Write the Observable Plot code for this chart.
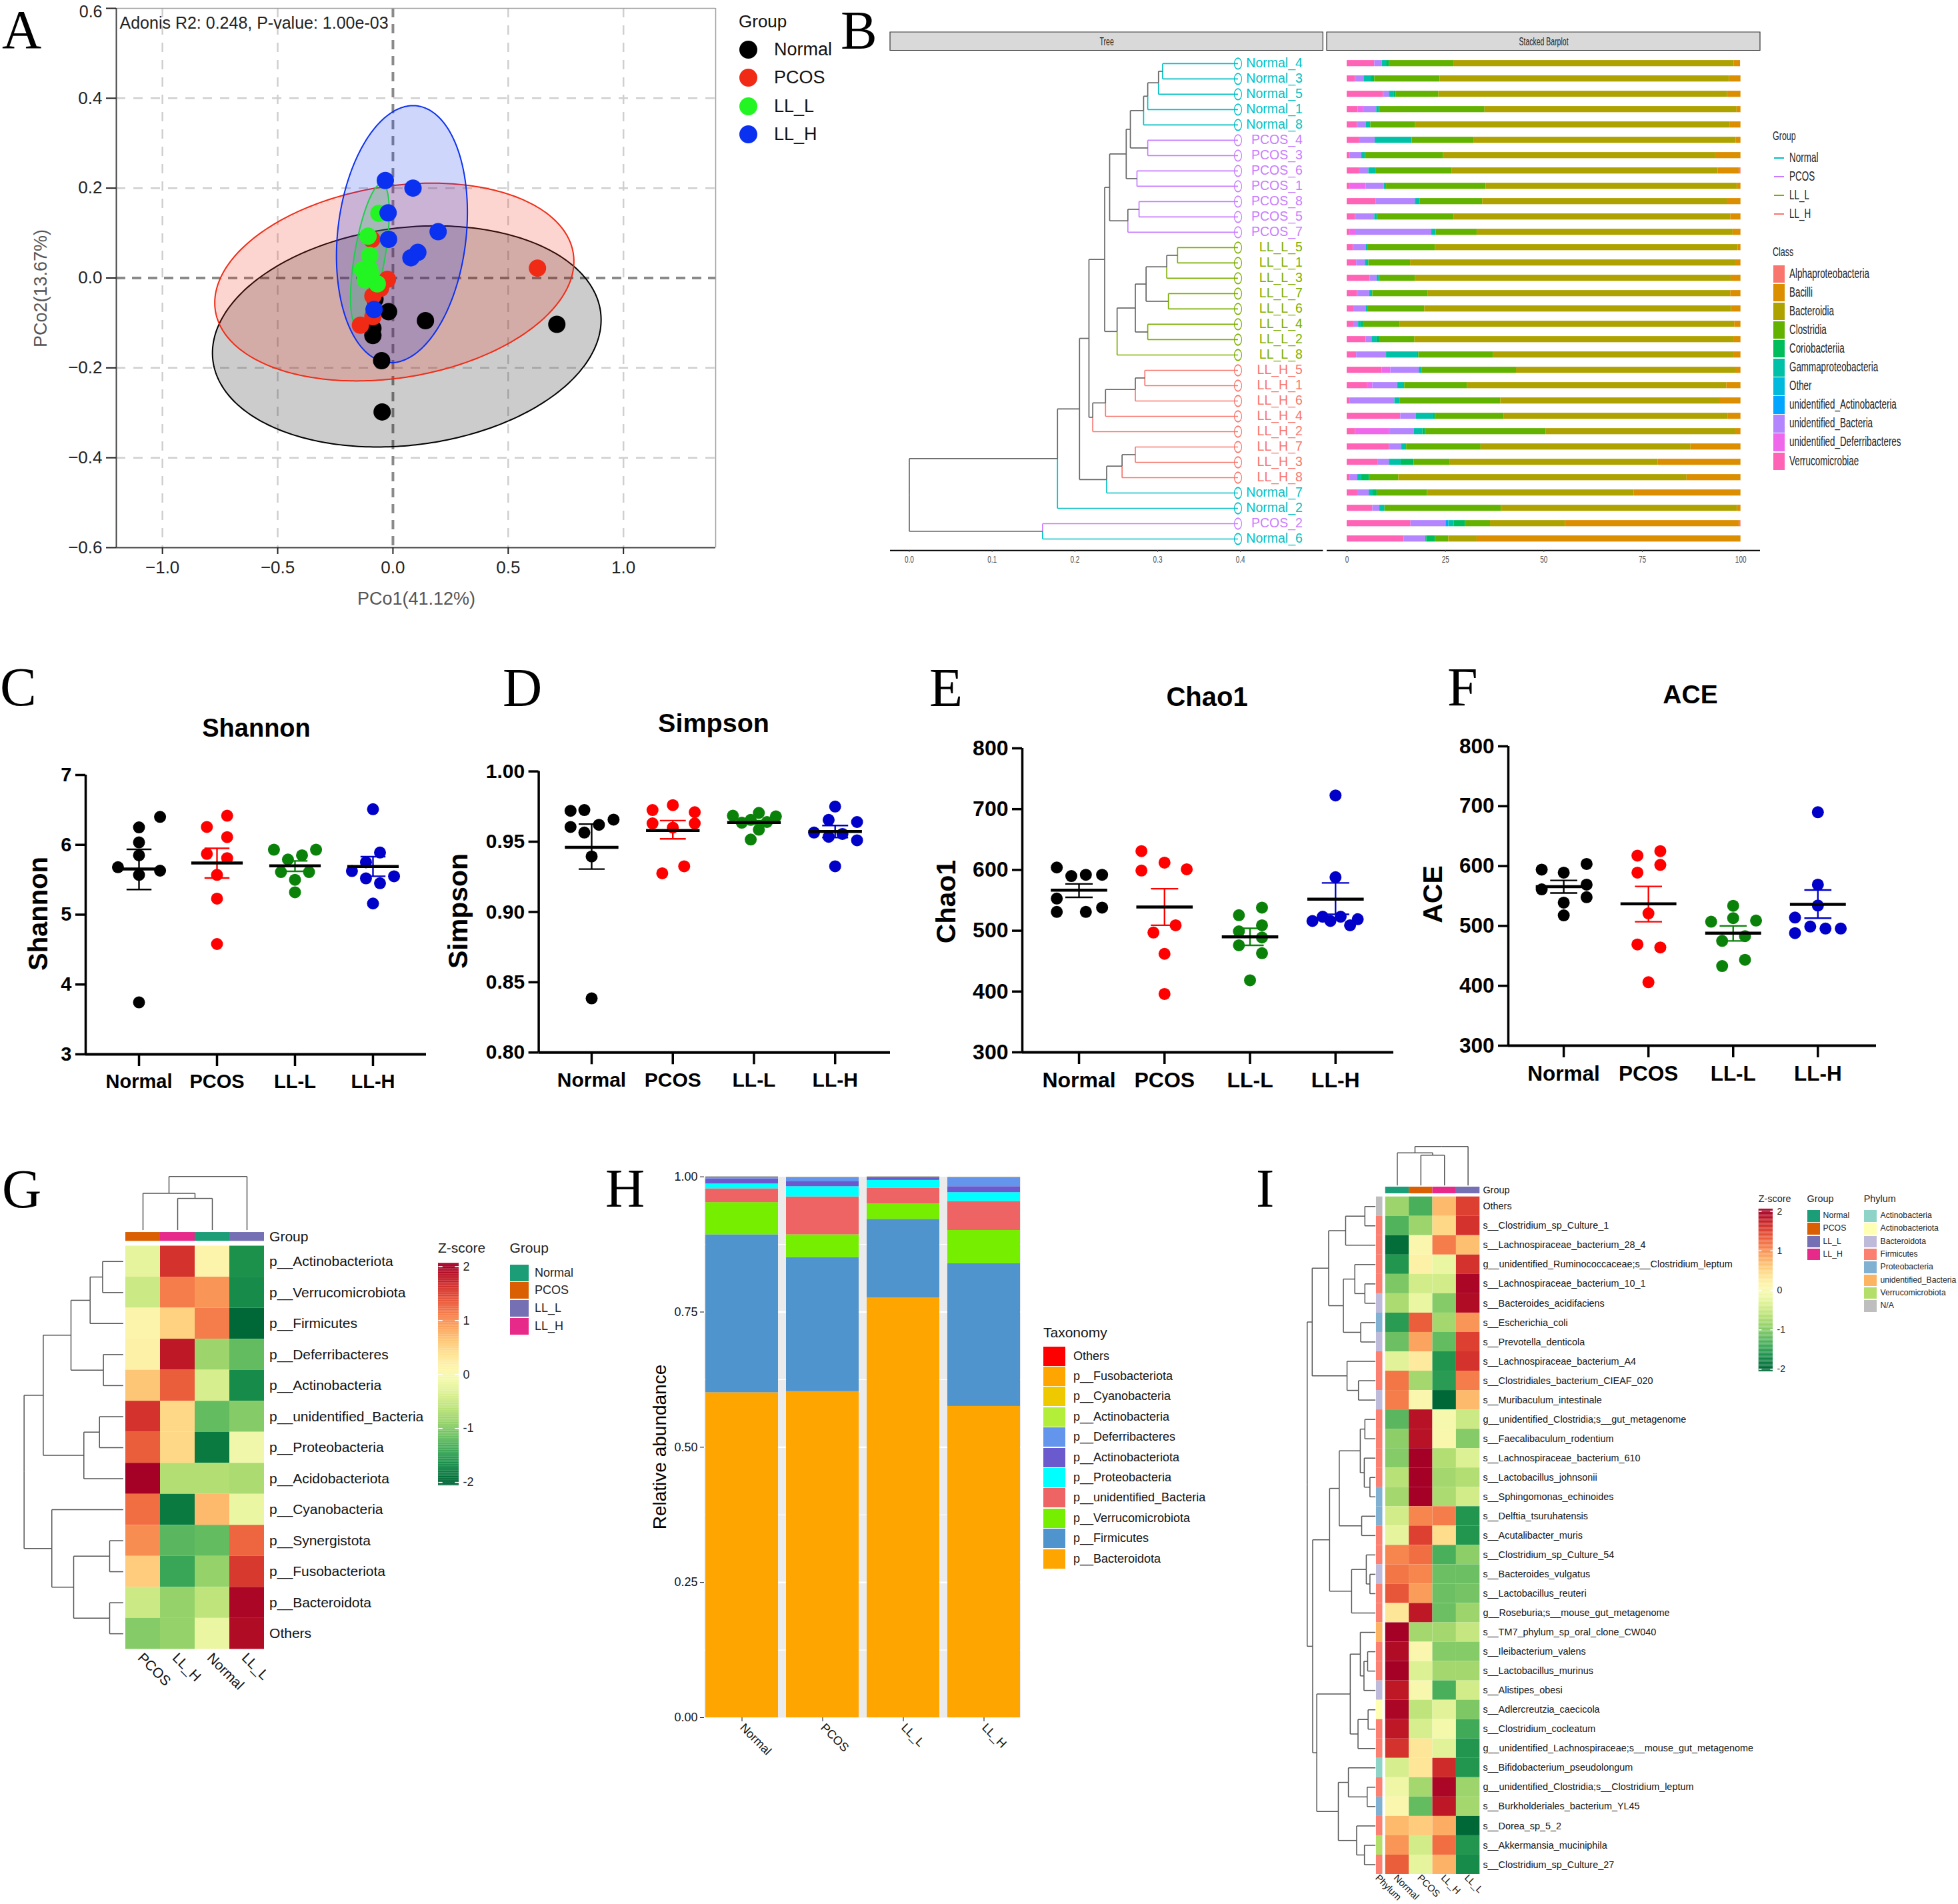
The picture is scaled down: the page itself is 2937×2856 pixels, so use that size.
<!DOCTYPE html>
<html><head><meta charset="utf-8">
<script src="https://cdn.jsdelivr.net/npm/d3@7"></script>
<script src="https://cdn.jsdelivr.net/npm/@observablehq/plot@0.6"></script>
<style>
html,body{margin:0;padding:0;background:#fff}
#page{position:relative;width:2937px;height:2856px;overflow:hidden;font-family:"Liberation Sans",Arial,sans-serif}
.letter{position:absolute;font-family:"Liberation Serif",serif;font-size:82px;line-height:1;color:#000}
.lg{position:absolute;white-space:nowrap}
.st line,.st path,.st rect{vector-effect:non-scaling-stroke}
</style></head><body><div id="page"></div>
<script>
/* ---------- shared ---------- */
const groupsAlpha=["Normal","PCOS","LL-L","LL-H"];
const FONT='"Liberation Sans",Arial,sans-serif';

/* ---------- A: PCoA ---------- */
const pcoaGroups=["Normal","PCOS","LL_L","LL_H"];
const pcoaColors=["#000000","#f02a14","#22f522","#0a30f0"];
const pcoaX=[.711,.141,-.019,-.049,-.047,-.087,-.087,-.078, .627,-.092,-.024,-.054,-.087,-.087,-.141,-.073, -.061,-.108,-.101,-.132,-.101,-.12,-.068,-.097, -.033,.087,-.021,.196,-.019,.108,.078,-.082];
const pcoaY=[-.103,-.095,-.075,-.184,-.298,-.128,-.112,-.047, .022,.086,-.003,-.023,-.04,-.086,-.105,-.012, .144,.093,.05,.018,.02,-.004,-.013,.01, .217,.2,.145,.103,.086,.057,.045,-.07];
/* ellipse: centre, half extent in x and y, tilt (correlation) */
const ellCx=[.06,.006,-.10,.039];
const ellCy=[-.13,-.009,.051,.0975];
const ellHx=[.843,.779,.084,.284];
const ellHy=[.246,.22,.159,.286];
const ellR=[.15,.21,.6,.17];

/* ---------- B: tree + stacked bars ---------- */
const sampleNames=["Normal_4","Normal_3","Normal_5","Normal_1","Normal_8","PCOS_4","PCOS_3","PCOS_6","PCOS_1","PCOS_8","PCOS_5","PCOS_7","LL_L_5","LL_L_1","LL_L_3","LL_L_7","LL_L_6","LL_L_4","LL_L_2","LL_L_8","LL_H_5","LL_H_1","LL_H_6","LL_H_4","LL_H_2","LL_H_7","LL_H_3","LL_H_8","Normal_7","Normal_2","PCOS_2","Normal_6"];
const bGroupColors={Normal:"#00BFC4",PCOS:"#C77CFF",LL_L:"#7CAE00",LL_H:"#F8766D"};
const bTree=[0,
 [.179,
  [.2056,
   [.217,
    [.236,
     [.242,
      [.262,[.267,[.283,[.288,[.301,[.306,0,1],2],3],4],[.288,5,6]],[.275,7,8]],
      [.264,[.2775,9,10],11]],
     [.251,[.273,[.286,[.311,[.324,12,13],14],[.313,15,16]],[.288,17,18]],19]],
    [.2216,[.237,[.273,[.2845,20,21],22],23],24]],
   [.2384,[.257,[.273,25,26],27],28]],
  29],
 [.161,30,31]];
const classNames=["Alphaproteobacteria","Bacilli","Bacteroidia","Clostridia","Coriobacteriia","Gammaproteobacteria","Other","unidentified_Actinobacteria","unidentified_Bacteria","unidentified_Deferribacteres","Verrucomicrobiae"];
const classColors=["#F8766D","#DB8E00","#AEA200","#64B200","#00BD5C","#00C1A7","#00BADE","#00A6FF","#B385FF","#EF67EB","#FF63B6"];
const verrucomicrobiae=[7,2.1,9.2,2.8,2.6,3.2,.8,3.2,.7,7.4,2.1,.7,1.6,2.4,5.8,2.6,1.7,1.7,4.8,2.4,8.9,5.2,.7,13.6,2.1,10.7,7.8,.7,2.7,6.5,16.2,14.5];
const uDeferribacteres=[0,0,0,1.4,0,0,0,0,4.1,0,0,1.5,0,0,0,0,0,0,0,0,2.2,1.3,0,0,8.7,0,0,0,0,0,0,0];
const uBacteria=[1.9,2.3,1.5,3.3,2.3,3.9,2.9,2.3,4.6,9.9,4.9,19.3,3.2,2.2,1.8,3.1,3.2,1.2,1.5,7.6,7.2,6.3,11.4,3.9,6.2,3.1,2.9,2,2.9,1.8,8.9,5.4];
const uActinobacteria=[0,0,0,0,0,0,0,0,0,0,0,0,0,0,0,0,0,0,0,0,0,0,0,0,0,0,0,0,0,0,.7,0];
const gammaproteobacteria=[1.1,1.7,1.3,.7,1.1,9.4,.9,1.8,.6,1.2,.7,1.1,.6,.9,.6,.8,.5,.8,1.3,7.8,.8,1.8,1.3,4.5,2.2,1.3,3,1,1,1.3,1.4,.3];
const coriobacteriia=[.7,.9,.4,0,0,0,0,0,0,0,0,0,0,0,0,0,0,.5,.7,.4,0,0,0,.4,.7,0,3.3,2,1,0,2.8,2.2];
const clostridia=[16.4,16.6,10.9,26.8,11.3,15.8,19.9,19.4,25.3,15.9,19.5,10.4,17,10.6,9.1,14.1,14.3,9.2,8.9,19,23.9,15.9,25.6,17.5,30.6,18.9,9.2,7.4,12.8,29.6,6.4,3.4];
const bacteroidia=[71.2,73.5,73.3,64,80,66.5,69.1,67.5,63.8,62.1,70.2,65,76.9,82.6,80.2,76.8,77.9,85,81,61,55.7,65.9,55.8,56.8,48.2,53.3,52.8,73.2,52.5,59.9,19,7.2];
const bacilli=[1.6,2.9,3.4,1,2.7,1.2,6.4,5.4,.9,3.5,2.6,2,.7,1.3,2.5,2.6,2.4,1.6,1.8,1.8,1.3,3.6,5.2,3.3,1.3,12.7,21,13.7,27.1,.9,44.2,67];
const alphaproteobacteria=[0,0,0,0,0,0,0,.4,0,0,0,0,0,0,0,0,0,0,0,0,0,0,0,0,0,0,0,0,0,0,.4,0];

/* ---------- C-F: alpha diversity; 8 samples per group ---------- */
const alphaColors=["#000000","#ff0000","#0a820a","#0000c8"];
const shannonY=[3.744,6.40,6.25,6.035,5.85,5.68,5.63,5.57, 6.417,6.256,6.11,5.87,5.81,5.57,5.23,4.58, 5.93,5.93,5.79,5.85,5.61,5.61,5.50,5.32, 6.51,5.89,5.75,5.625,5.52,5.55,5.45,5.16];
const shannonJ=[0,.27,0,0,0,-.27,.27,0, .13,-.13,.13,-.13,.13,0,0,0, -.27,.27,-.09,.09,-.18,.18,0,0, 0,.09,-.09,-.27,-.09,.27,.09,0];
const shannonMean=[5.653,5.74,5.70,5.69];
const shannonLow=[5.36,5.525,5.62,5.55];
const shannonHigh=[5.935,5.95,5.77,5.83];
const simpsonY=[.972,.9725,.9657,.9605,.962,.9565,.9395,.8385, .976,.9725,.971,.963,.963,.96,.9275,.9325, .9685,.968,.9705,.9635,.9655,.964,.9585,.9515, .975,.9655,.964,.9565,.9535,.9555,.951,.9325];
const simpsonJ=[-.26,-.09,.27,-.26,.09,-.09,0,0, 0,-.25,.27,-.25,.27,0,-.13,.14, -.26,.27,.06,-.15,-.04,.16,.06,-.04, 0,-.08,.27,-.26,-.08,.09,.27,0];
const simpsonMean=[.946,.958,.9637,.9573];
const simpsonLow=[.9305,.952,.9625,.953];
const simpsonHigh=[.9625,.965,.965,.9615];
const chao1Y=[604,590,592,592,553,531,531,538, 631,612,599,601,509,497,462,396, 538,525.5,509,499,489,476,463,418.5, 722.5,588,523,516,516,519,509,523];
const chao1J=[-.26,-.09,.08,.27,-.26,-.26,.08,.27, -.27,0,-.27,.26,.13,-.13,0,0, .14,-.13,.14,-.13,.14,-.13,.14,0, 0,0,-.15,-.27,-.06,.26,.17,.06];
const chao1Mean=[566.6,539,490,552];
const chao1Low=[555,509,476,527];
const chao1High=[577,569,504,578.6];
const aceY=[594,603.5,589,569,561,548,539,517.6, 625,617.5,602,589,521,469,464,406, 533.6,509,507,513,483,475,443.5,433, 690,569,534,514,488,499,495.6,495.6];
const aceJ=[-.26,.27,0,.27,-.26,.27,0,0, .14,-.13,.14,-.13,0,-.13,.14,0, 0,.27,-.26,0,.14,-.13,.14,-.13, 0,0,0,-.27,-.27,-.09,.09,.27];
const aceMean=[565.5,537,488,536];
const aceLow=[555,507,475,513];
const aceHigh=[576,566,500,560];

/* ---------- G: heatmap ---------- */
const gTaxa=["p__Actinobacteriota","p__Verrucomicrobiota","p__Firmicutes","p__Deferribacteres","p__Actinobacteria","p__unidentified_Bacteria","p__Proteobacteria","p__Acidobacteriota","p__Cyanobacteria","p__Synergistota","p__Fusobacteriota","p__Bacteroidota","Others"];
const gCols=["PCOS","LL_H","Normal","LL_L"];
const gPCOS=[-.25,-.5,.1,.15,.6,1.6,1.3,2,1.2,1,.55,-.5,-1];
const gLLH=[1.6,1.1,.5,1.8,1.3,.45,.45,-.7,-1.85,-1.25,-1.45,-.9,-.9];
const gNormal=[.1,.95,1.1,-.85,-.4,-1.2,-1.85,-.7,.7,-1.2,-.9,-.6,-.2];
const gLLL=[-1.65,-1.7,-2,-1.2,-1.7,-1,-.12,-.75,-.2,1.25,1.55,1.95,1.9];
const gRowTree=[-2.93,[-2.377,[-1.577,[-1.025,[-.665,0,1],2],[-.642,3,4]],[-1.206,[-.755,5,6],7]],[-2.13,8,[-1.5,[-.462,9,10],[-.462,11,12]]]];
const gColTree=[-2.24,[-1.7,0,[-1.535,1,2]],3];
const stripColors={Normal:"#1b9e77",PCOS:"#d95f02",LL_L:"#7570b3",LL_H:"#e7298a"};

/* ---------- H: stacked relative abundance ---------- */
const hSamples=["Normal","PCOS","LL_L","LL_H"];
const hTaxa=["p__Bacteroidota","p__Firmicutes","p__Verrucomicrobiota","p__unidentified_Bacteria","p__Proteobacteria","p__Actinobacteriota","p__Deferribacteres","p__Actinobacteria","p__Cyanobacteria","p__Fusobacteriota","Others"];
const hColors=["#ffa500","#4f94cd","#76ee00","#ee6363","#00ffff","#6a5acd","#6495ed","#b3ee3a","#eec900","#ffa500","#ff0000"];
const hBacteroidota=[.601,.603,.776,.5757];
const hFirmicutes=[.292,.248,.1455,.2638];
const hVerrucomicrobiota=[.0596,.042,.0285,.0615];
const hUnidentified=[.0254,.07,.029,.0537];
const hProteobacteria=[.009,.019,.0146,.0163];
const hActinobacteriota=[.0095,.009,.0054,.011];
const hDeferribacteres=[.0035,.008,.001,.017];
const hActinobacteria=[.0002,.0002,.0002,.0002];
const hCyanobacteria=[.0001,.0001,.0001,.0001];
const hFusobacteria=[.0001,.0001,.0001,.0001];
const hOthers=[.0001,.0001,.0001,.0001];

/* ---------- I: species heatmap ---------- */
const iTaxa=["Others","s__Clostridium_sp_Culture_1","s__Lachnospiraceae_bacterium_28_4","g__unidentified_Ruminococcaceae;s__Clostridium_leptum","s__Lachnospiraceae_bacterium_10_1","s__Bacteroides_acidifaciens","s__Escherichia_coli","s__Prevotella_denticola","s__Lachnospiraceae_bacterium_A4","s__Clostridiales_bacterium_CIEAF_020","s__Muribaculum_intestinale","g__unidentified_Clostridia;s__gut_metagenome","s__Faecalibaculum_rodentium","s__Lachnospiraceae_bacterium_610","s__Lactobacillus_johnsonii","s__Sphingomonas_echinoides","s__Delftia_tsuruhatensis","s__Acutalibacter_muris","s__Clostridium_sp_Culture_54","s__Bacteroides_vulgatus","s__Lactobacillus_reuteri","g__Roseburia;s__mouse_gut_metagenome","s__TM7_phylum_sp_oral_clone_CW040","s__Ileibacterium_valens","s__Lactobacillus_murinus","s__Alistipes_obesi","s__Adlercreutzia_caecicola","s__Clostridium_cocleatum","g__unidentified_Lachnospiraceae;s__mouse_gut_metagenome","s__Bifidobacterium_pseudolongum","g__unidentified_Clostridia;s__Clostridium_leptum","s__Burkholderiales_bacterium_YL45","s__Dorea_sp_5_2","s__Akkermansia_muciniphila","s__Clostridium_sp_Culture_27"];
const iCols=["Normal","PCOS","LL_H","LL_L"];
const iNormal=[-.85,-1.3,-1.95,-1.6,-1.05,-.75,-1.55,-1.15,-.3,1.15,1.1,-1.25,-.95,-1,-.65,-.8,-.45,-.25,1.05,1.15,1.35,.3,2,1.9,2,1.8,1.95,1.8,1.6,-.4,-.15,.03,.7,.95,1.3];
const iPCOS=[-1.35,-.85,.05,.15,-.45,-.2,1.3,.85,.25,-.8,.05,1.85,1.85,2,2,2,1.05,1.5,1.2,1.05,.9,1.8,-.8,.03,-.35,-.03,-.6,-.4,.3,.3,-.8,-1.2,.55,-.45,-.25];
const iLLH=[.7,.45,1.1,-.2,-.45,-1,-.8,-1.2,-1.6,-1.55,-2,-.05,0,-.7,-.8,-.75,1.1,.4,-1.35,-1.15,-1.15,-1.15,-.8,-1,-.8,-1.35,-.3,-.1,-.3,1.65,1.95,1.8,.8,1.2,.75];
const iLLL=[1.5,1.6,.65,1.6,1.95,1.9,.95,1.5,1.6,1.1,.7,-.5,-1,-.35,-.7,-.45,-1.6,-1.6,-.95,-1.15,-1.1,-.85,-.55,-1,-.8,-.45,-1.05,-1.4,-1.6,-1.6,-.85,-.8,-2,-1.6,-1.7];
const phylumNames=["Actinobacteria","Actinobacteriota","Bacteroidota","Firmicutes","Proteobacteria","unidentified_Bacteria","Verrucomicrobiota","N/A"];
const phylumColors=["#8dd3c7","#ffffb3","#bebada","#fb8072","#80b1d3","#fdb462","#b3de69","#bebebe"];
const iPhylum=[7,3,3,3,3,2,4,2,3,3,2,3,3,3,3,4,4,3,3,2,3,3,5,3,3,2,1,3,3,0,3,4,3,6,3];
const iRowTree=[-3.32,
 [-3.107,[-2.41,[-1.69,[-.874,0,1],2],[-1.786,[-1.3,3,[-.874,4,5]],[-1.05,6,7]]],[-1.63,8,[-1.146,9,10]]],
 [-3.087,
  [-2.37,
   [-1.96,[-1.07,[-.874,11,12],[-.9,13,[-.66,14,15]]],[-1.01,16,17]],
   [-1.437,[-.815,18,[-.66,19,20]],21]],
  [-2.913,
   [-1.495,[-1.068,22,[-.913,[-.757,23,24],25]],[-1.165,[-.738,26,27],28]],
   [-2,[-1.573,29,[-.777,30,31]],[-1.223,32,[-.893,33,34]]]]]];
const iColTree=[-2.6,[-2.27,0,[-2.15,1,2]],3];

/* ---------- helpers ---------- */
const page=document.getElementById("page");
function panel({box,area,stretch=1,...opts}){
  const [x0,y0,x1,y1]=box,[L,T,R,B]=area;
  const W=x1-x0,H=(y1-y0)/stretch;
  const svg=Plot.plot({width:W,height:H,marginLeft:L-x0,marginRight:x1-R,marginTop:(T-y0)/stretch,marginBottom:(y1-B)/stretch,
    style:{fontFamily:FONT,background:"transparent",overflow:"visible"},...opts});
  svg.style.position="absolute";svg.style.left=x0+"px";svg.style.top=y0+"px";
  svg.style.maxWidth="none";
  if(stretch!==1){svg.setAttribute("preserveAspectRatio","none");svg.style.width=W+"px";svg.style.height=(y1-y0)+"px";svg.classList.add("st");}
  page.appendChild(svg);return svg;
}
/* text placed in real page pixels relative to a panel's plot area */
function label(str,area,x,y,o={}){
  return Plot.text([str],{frameAnchor:"top-left",dx:x-area[0],dy:y-area[1],lineAnchor:"bottom",...o});
}
function letter(t,x,base){const d=document.createElement("div");d.className="letter";d.textContent=t;d.style.left=x+"px";d.style.top=(base-66)+"px";page.appendChild(d);}
function legend({title,titleX,titleBase,titleSize,items,swX,swW,y0,swH,step,labelX,font,shape="rect",stretch=1,color="#111"}){
  const sty=`transform:scaleY(${stretch});transform-origin:left center;`;
  if(title){const t=document.createElement("div");t.className="lg";t.textContent=title;t.style.cssText+=`left:${titleX}px;top:${titleBase-titleSize}px;height:${titleSize*1.2}px;line-height:${titleSize*1.2}px;font-size:${titleSize}px;color:${color};transform:scaleY(${stretch});transform-origin:left ${titleSize*.9}px;`;page.appendChild(t);}
  items.forEach((it,i)=>{
    const y=y0+i*step;
    const s=document.createElement("div");s.className="lg";
    if(shape==="line")s.style.cssText=`left:${swX}px;top:${y+swH/2-1}px;width:${swW}px;height:2px;background:${it.color}`;
    else s.style.cssText=`left:${swX}px;top:${y}px;width:${swW}px;height:${swH}px;background:${it.color};${shape==="circle"?"border-radius:50%":""}`;
    page.appendChild(s);
    const l=document.createElement("div");l.className="lg";l.textContent=it.label;
    l.style.cssText=`left:${labelX}px;top:${y}px;height:${swH}px;line-height:${swH}px;font-size:${font}px;color:${color};${sty}`;
    page.appendChild(l);
  });
}
/* walk a nested [height,a,b] tree and return its L-shaped links */
function dendro(tree,leafH,leafPos){
  const segs=[];
  (function walk(n){
    if(typeof n==="number")return {pos:leafPos(n),h:leafH,leaf:n};
    const kids=[walk(n[1]),walk(n[2])];
    const pos=(kids[0].pos+kids[1].pos)/2;
    for(const k of kids){
      segs.push({h1:n[0],h2:k.h,p1:k.pos,p2:k.pos,leaf:k.leaf});
      segs.push({h1:n[0],h2:n[0],p1:pos,p2:k.pos,leaf:k.leaf});
    }
    return {pos,h:n[0]};
  })(tree);
  return segs;
}
const zColor={type:"linear",domain:[-2,2],scheme:"RdYlGn",reverse:true,clamp:true};
function colorBar({box,area,font,white=true}){
  const steps=d3.range(-2.06,2.06,.02);
  return panel({box,area,
    x:{domain:[0,1],axis:null},y:{domain:[-2.06,2.06],axis:null},color:zColor,
    marks:[
      Plot.rect(steps,{x1:0,x2:1,y1:d=>d,y2:d=>d+.021,fill:d=>d}),
      Plot.link([-2,-1,0,1,2],{x1:0,x2:.2,y1:d=>d,y2:d=>d,stroke:"#fff",strokeWidth:1.5}),
      Plot.link([-2,-1,0,1,2],{x1:.8,x2:1,y1:d=>d,y2:d=>d,stroke:"#fff",strokeWidth:1.5}),
      Plot.text([-2,-1,0,1,2],{x:1,y:d=>d,text:d=>String(d),textAnchor:"start",dx:6,fontSize:font,fill:"#222"})
    ]});
}

/* ---------- A ---------- */
(function(){
  const area=[174,12,1073,821];
  const rows=pcoaX.map((x,i)=>({x,y:pcoaY[i],g:Math.floor(i/8)}));
  const angle=d3.range(0,6.2832+.02,.02);
  const ell=i=>angle.map(t=>({x:ellCx[i]+ellHx[i]*Math.cos(t),y:ellCy[i]+ellHy[i]*Math.sin(t+Math.asin(ellR[i]))}));
  const yTicks=[-.6,-.4,-.2,0,.2,.4,.6];
  panel({box:[0,0,1100,930],area,
    x:{domain:[-1.2,1.4],axis:null},y:{domain:[-.6,.6],axis:null},
    marks:[
      Plot.ruleX([-1,-.5,.5,1],{stroke:"#cfcfcf",strokeWidth:2.5,strokeDasharray:"14 12"}),
      Plot.ruleY([-.4,-.2,.2,.4],{stroke:"#cfcfcf",strokeWidth:2.5,strokeDasharray:"14 12"}),
      Plot.ruleX([0],{stroke:"#8a8a8a",strokeWidth:4,strokeDasharray:"14 10"}),
      Plot.ruleY([0],{stroke:"#8a8a8a",strokeWidth:4,strokeDasharray:"14 10"}),
      ...[0,1,2,3].map(i=>Plot.line(ell(i),{x:"x",y:"y",fill:pcoaColors[i],fillOpacity:.2,stroke:pcoaColors[i],strokeWidth:2})),
      Plot.dot(rows,{x:"x",y:"y",r:13,fill:{value:d=>pcoaColors[d.g],scale:null}}),
      Plot.ruleX([1.4],{stroke:"#a0a0a0",strokeWidth:1.5}),
      Plot.ruleY([.6],{stroke:"#a0a0a0",strokeWidth:1.5}),
      Plot.ruleX([-1.2],{stroke:"#444",strokeWidth:2}),
      Plot.ruleY([-.6],{stroke:"#444",strokeWidth:2}),
      Plot.axisX({ticks:[-1,-.5,0,.5,1],tickFormat:".1f",tickSize:10,tickPadding:10,fontSize:26,label:null,color:"#222",strokeWidth:2}),
      Plot.axisY({ticks:yTicks,tickFormat:d=>d===.6?"":d3.format(".1f")(d),tickSize:15,tickPadding:6,fontSize:26,label:null,color:"#222",strokeWidth:2}),
      Plot.text([.6],{x:()=>-1.2,y:d=>d,text:d=>d3.format(".1f")(d),textAnchor:"end",dx:-21,dy:5,fontSize:25,fill:"#222"}),
      label("PCo1(41.12%)",area,624,906,{textAnchor:"middle",fontSize:27,fill:"#555"}),
      label("PCo2(13.67%)",area,69,432,{textAnchor:"middle",rotate:-90,fontSize:27,fill:"#555"}),
      label("Adonis R2: 0.248, P-value: 1.00e-03",area,179,42,{textAnchor:"start",fontSize:25,fill:"#222"})
    ]});
  legend({title:"Group",titleX:1108,titleBase:43,titleSize:26,items:pcoaGroups.map((g,i)=>({label:g,color:pcoaColors[i]})),swX:1108.5,swW:27,y0:60.5,swH:27,step:42.6,labelX:1161,font:27,shape:"circle"});
})();

/* ---------- B ---------- */
(function(){
  const S=1.5,groupOf=n=>n.replace(/_\d$/,"");
  const areaT=[1334.6,48,1984,825];
  const segs=dendro(bTree,.397,i=>i);
  const yS={domain:[31.75,-2.03],axis:null};
  const colorOf=s=>s.leaf===undefined?"#666666":bGroupColors[groupOf(sampleNames[s.leaf])];
  const tips=sampleNames.map((n,i)=>({n,i,c:bGroupColors[groupOf(n)]}));
  panel({box:[1334.6,48,1984,860],area:areaT,stretch:S,
    x:{domain:[-.0229,.5],axis:null},y:yS,
    marks:[
      Plot.rect([0],{x1:-.0229,x2:.5,y1:-2.03,y2:-.835,fill:"#d9d9d9",stroke:"#333",strokeWidth:1.2}),
      Plot.text(["Tree"],{x:.2385,y:-1.43,fontSize:10.5,fill:"#222"}),
      Plot.link(segs,{x1:"h1",x2:"h2",y1:"p1",y2:"p2",stroke:{value:colorOf,scale:null},strokeWidth:1.7}),
      Plot.dot(tips,{x:()=>.397,y:"i",r:5.5,fill:"none",stroke:{value:d=>d.c,scale:null},strokeWidth:1.2}),
      Plot.ruleY([31.75],{stroke:"#000",strokeWidth:2}),
      Plot.axisX({ticks:[0,.1,.2,.3,.4],tickFormat:".1f",tickSize:2,tickPadding:3,fontSize:10,color:"#4d4d4d",label:null,anchor:"bottom"})
    ]});
  /* tip labels sit in their own unstretched layer so neighbouring rows stay clear of each other */
  panel({box:[1334.6,48,1984,860],area:areaT,
    x:{domain:[-.0229,.5],axis:null},y:yS,
    marks:[Plot.text(tips,{x:()=>.475,y:"i",text:"n",textAnchor:"end",fontSize:19.5,fill:{value:d=>d.c,scale:null}})]});
  const series=[alphaproteobacteria,bacilli,bacteroidia,clostridia,coriobacteriia,gammaproteobacteria,null,uActinobacteria,uBacteria,uDeferribacteres,verrucomicrobiae];
  const order=[10,9,8,7,5,4,3,2,1,0];
  const rects=[];
  sampleNames.forEach((n,r)=>{let c=0;for(const k of order){const v=series[k][r];if(v>0){rects.push({r,x1:c,x2:c+v,c:classColors[k]});c+=v;}}});
  panel({box:[1990,48,2640,860],area:[1990,48,2640,825],stretch:S,
    x:{domain:[-5.08,104.96],axis:null},y:yS,
    marks:[
      Plot.rect([0],{x1:-5.08,x2:104.96,y1:-2.03,y2:-.835,fill:"#d9d9d9",stroke:"#333",strokeWidth:1.2}),
      Plot.text(["Stacked Barplot"],{x:49.94,y:-1.43,fontSize:10.5,fill:"#222"}),
      Plot.rect(rects,{x1:"x1",x2:"x2",y1:d=>d.r-.2,y2:d=>d.r+.2,fill:{value:d=>d.c,scale:null}}),
      Plot.ruleY([31.75],{stroke:"#000",strokeWidth:2}),
      Plot.axisX({ticks:[0,25,50,75,100],tickSize:2,tickPadding:3,fontSize:10,color:"#4d4d4d",label:null,anchor:"bottom"})
    ]});
  legend({title:"Group",titleX:2659,titleBase:211,titleSize:12.5,items:Object.entries(bGroupColors).map(([label,color])=>({label,color})),swX:2661,swW:15,y0:230,swH:14,step:28,labelX:2684,font:13.5,shape:"line",stretch:S,color:"#222"});
  legend({title:"Class",titleX:2659,titleBase:385,titleSize:12.5,items:classNames.map((label,i)=>({label,color:classColors[i]})),swX:2660,swW:17,y0:397.5,swH:26.5,step:28.1,labelX:2684,font:13.4,stretch:S,color:"#222"});
})();

/* ---------- C-F ---------- */
function alphaPanel({box,area,xd,yd,ticks,fmt,ys,js,mean,low,high,title,titleX,titleBase,titleSize,yTitleX,yTitleY,yTitleSize,font}){
  const pts=ys.map((y,i)=>{const g=Math.floor(i/8);return {y,x:g+js[i],g};});
  const stats=mean.map((m,g)=>({g,m,lo:low[g],hi:high[g]}));
  const col={value:d=>alphaColors[d.g],scale:null};
  panel({box,area,
    x:{domain:xd,axis:null},y:{domain:yd,axis:null},
    marks:[
      Plot.ruleX([xd[0]],{strokeWidth:3.5,stroke:"#000"}),
      Plot.ruleY([yd[0]],{strokeWidth:4,stroke:"#000"}),
      Plot.axisY({ticks,tickFormat:fmt,tickSize:15,tickPadding:6,fontSize:font,fontWeight:"bold",strokeWidth:3.5,color:"#000",label:null}),
      Plot.axisX({ticks:[0,1,2,3],tickFormat:i=>groupsAlpha[i],tickSize:18,tickPadding:12,fontSize:font,fontWeight:"bold",strokeWidth:3.5,color:"#000",label:null}),
      Plot.dot(pts,{x:"x",y:"y",r:9,fill:col}),
      Plot.link(stats,{x1:"g",x2:"g",y1:"lo",y2:"hi",stroke:col,strokeWidth:2.4}),
      Plot.link(stats,{x1:d=>d.g-.16,x2:d=>d.g+.16,y1:"lo",y2:"lo",stroke:col,strokeWidth:2.4}),
      Plot.link(stats,{x1:d=>d.g-.16,x2:d=>d.g+.16,y1:"hi",y2:"hi",stroke:col,strokeWidth:2.4}),
      Plot.link(stats,{x1:d=>d.g-.33,x2:d=>d.g+.33,y1:"m",y2:"m",stroke:"#000",strokeWidth:4.5}),
      label(title,area,titleX,titleBase,{textAnchor:"middle",fontSize:titleSize,fontWeight:"bold",fill:"#000"}),
      label(title,area,yTitleX,yTitleY,{textAnchor:"middle",rotate:-90,fontSize:yTitleSize,fontWeight:"bold",fill:"#000"})
    ]});
}
alphaPanel({box:[0,1060,660,1670],area:[128,1162,639,1581],xd:[-.684,3.684],yd:[3,7],ticks:[3,4,5,6,7],fmt:"d",ys:shannonY,js:shannonJ,mean:shannonMean,low:shannonLow,high:shannonHigh,title:"Shannon",titleX:384,titleBase:1104,titleSize:38,yTitleX:70,yTitleY:1370,yTitleSize:40,font:29});
alphaPanel({box:[680,1060,1350,1670],area:[807.6,1156.6,1335,1578.3],xd:[-.652,3.68],yd:[.8,1],ticks:[.8,.85,.9,.95,1],fmt:".2f",ys:simpsonY,js:simpsonJ,mean:simpsonMean,low:simpsonLow,high:simpsonHigh,title:"Simpson",titleX:1070,titleBase:1097,titleSize:39.5,yTitleX:700,yTitleY:1366,yTitleSize:41,font:30});
alphaPanel({box:[1390,1040,2110,1670],area:[1533,1122,2090,1578],xd:[-.663,3.68],yd:[300,800],ticks:[300,400,500,600,700,800],fmt:"d",ys:chao1Y,js:chao1J,mean:chao1Mean,low:chao1Low,high:chao1High,title:"Chao1",titleX:1810,titleBase:1058,titleSize:40,yTitleX:1432,yTitleY:1352,yTitleSize:41,font:32});
alphaPanel({box:[2130,1040,2830,1670],area:[2262,1119,2814,1568],xd:[-.654,3.69],yd:[300,800],ticks:[300,400,500,600,700,800],fmt:"d",ys:aceY,js:aceJ,mean:aceMean,low:aceLow,high:aceHigh,title:"ACE",titleX:2535,titleBase:1054,titleSize:39,yTitleX:2162,yTitleY:1341,yTitleSize:41,font:31.5});

/* ---------- heatmap helper ---------- */
function heatmap({box,area,xd,yd,taxa,cols,series,rowTree,rowLeaf,colTree,colLeaf,stripY,labelU,font,colLabelY,colLabelX,colLabels,extra=[]}){
  const cells=taxa.flatMap((t,r)=>cols.map((c,i)=>({r,i,z:series[i][r]})));
  const rowSegs=dendro(rowTree,rowLeaf,i=>i+.5);
  const colSegs=dendro(colTree,colLeaf,i=>i+.5);
  return panel({box,area,
    x:{domain:xd,axis:null},y:{domain:yd,axis:null},color:zColor,
    marks:[
      Plot.rect(cells,{x1:"i",x2:d=>d.i+1,y1:"r",y2:d=>d.r+1,fill:"z"}),
      Plot.rect(cols,{x1:(d,i)=>i,x2:(d,i)=>i+1,y1:stripY[0],y2:stripY[1],fill:{value:d=>stripColors[d],scale:null}}),
      Plot.link(rowSegs,{x1:"h1",x2:"h2",y1:"p1",y2:"p2",stroke:"#555",strokeWidth:1.5}),
      Plot.link(colSegs,{y1:"h1",y2:"h2",x1:"p1",x2:"p2",stroke:"#555",strokeWidth:1.5}),
      Plot.text(taxa,{x:()=>labelU,y:(d,i)=>i+.5,text:d=>d,textAnchor:"start",fontSize:font,fill:"#111"}),
      Plot.text(["Group"],{x:()=>labelU,y:()=>(stripY[0]+stripY[1])/2,textAnchor:"start",fontSize:font,fill:"#111"}),
      Plot.text(colLabels,{x:(d,i)=>colLabelX[i],y:()=>colLabelY,text:d=>d,rotate:45,textAnchor:"start",fontSize:font,fill:"#111"}),
      ...extra
    ]});
}

/* ---------- G ---------- */
heatmap({box:[0,1750,650,2570],area:[16.4,1761.5,396,2473.4],xd:[-3.3,4],yd:[13,-2.3],taxa:gTaxa,cols:gCols,series:[gPCOS,gLLH,gNormal,gLLL],
  rowTree:gRowTree,rowLeaf:-.07,colTree:gColTree,colLeaf:-.515,stripY:[-.44,-.154],labelU:4.146,font:21,colLabelY:13.2,colLabelX:[.42,1.42,2.42,3.42],colLabels:gCols});
colorBar({box:[650,1880,720,2240],area:[657,1894.5,688,2228],font:18});
legend({title:"Z-score",titleX:657,titleBase:1880,titleSize:21,items:[],color:"#222"});
legend({title:"Group",titleX:764.5,titleBase:1880,titleSize:21,items:Object.entries(stripColors).map(([label,color])=>({label,color})),swX:765,swW:28,y0:1896.5,swH:25,step:26.8,labelX:802,font:18,color:"#222"});

/* ---------- H ---------- */
(function(){
  const area=[1056,1764.7,1531,2576];
  const hSeries=[hBacteroidota,hFirmicutes,hVerrucomicrobiota,hUnidentified,hProteobacteria,hActinobacteriota,hDeferribacteres,hActinobacteria,hCyanobacteria,hFusobacteria,hOthers];
  const rows=hTaxa.flatMap((t,k)=>hSamples.map((s,i)=>({s,t,k,v:hSeries[k][i]})));
  panel({box:[970,1740,1560,2670],area,
    x:{domain:hSamples,paddingInner:.1,paddingOuter:0,axis:null},y:{domain:[0,1],axis:null},
    marks:[
      Plot.frame({fill:"#ebebeb",stroke:null}),
      Plot.ruleY([.25,.5,.75],{stroke:"#fff",strokeWidth:2.4}),
      Plot.ruleY([.125,.375,.625,.875],{stroke:"#fff",strokeWidth:1.2}),
      Plot.barY(rows,{x:"s",y:"v",z:"k",fill:{value:d=>hColors[d.k],scale:null},order:null}),
      Plot.axisY({ticks:[0,.25,.5,.75,1],tickFormat:".2f",tickSize:6,tickPadding:4,fontSize:18,color:"#111",label:null}),
      Plot.axisX({tickRotate:45,tickSize:6,tickPadding:6,fontSize:18,color:"#111",label:null}),
      label("Relative abundance",area,998,2170,{textAnchor:"middle",rotate:-90,fontSize:28,fill:"#000"})
    ]});
  const lg=["Others","p__Fusobacteriota","p__Cyanobacteria","p__Actinobacteria","p__Deferribacteres","p__Actinobacteriota","p__Proteobacteria","p__unidentified_Bacteria","p__Verrucomicrobiota","p__Firmicutes","p__Bacteroidota"];
  const lgC=lg.map(n=>hColors[hTaxa.indexOf(n)]);
  legend({title:"Taxonomy",titleX:1565,titleBase:2007,titleSize:21,items:lg.map((label,i)=>({label,color:lgC[i]})),swX:1565,swW:33,y0:2019.5,swH:29,step:30.4,labelX:1610,font:18,color:"#111"});
})();

/* ---------- I ---------- */
heatmap({box:[1950,1705,2636,2856],area:[1953.9,1713.4,2219.3,2811],xd:[-3.5,4],yd:[35,-2.8],taxa:iTaxa,cols:iCols,series:[iNormal,iPCOS,iLLH,iLLL],
  rowTree:iRowTree,rowLeaf:-.427,colTree:iColTree,colLeaf:-.586,stripY:[-.507,-.163],labelU:4.13,font:14.4,colLabelY:35.1,colLabelX:[.42,1.42,2.42,3.42],colLabels:iCols,
  extra:[
    Plot.rect(iPhylum,{x1:-.39,x2:-.12,y1:(d,i)=>i,y2:(d,i)=>i+1,fill:{value:d=>phylumColors[d],scale:null}}),
    Plot.text(["Phylum"],{x:()=>-.36,y:()=>35.1,rotate:45,textAnchor:"start",fontSize:14.4,fill:"#111"})
  ]});
colorBar({box:[2630,1805,2690,2065],area:[2637.7,1813,2659,2057],font:14});
legend({title:"Z-score",titleX:2637.7,titleBase:1804,titleSize:14.4,items:[],color:"#222"});
legend({title:"Group",titleX:2710.5,titleBase:1804,titleSize:14.4,items:Object.entries(stripColors).map(([label,color])=>({label,color})),swX:2710.5,swW:19.5,y0:1815,swH:17.5,step:19.3,labelX:2734.5,font:12.3,color:"#222"});
legend({title:"Phylum",titleX:2795.7,titleBase:1804,titleSize:14.4,items:phylumNames.map((label,i)=>({label,color:phylumColors[i]})),swX:2796,swW:19,y0:1815,swH:17.5,step:19.3,labelX:2820.5,font:12.2,color:"#222"});

/* ---------- panel letters ---------- */
[["A",3,70],["B",1261,71],["C",0,1056],["D",754,1057],["E",1394,1057],["F",2171,1056],["G",3,1809],["H",908,1808],["I",1884,1808]].forEach(d=>letter(...d));
</script></body></html>
